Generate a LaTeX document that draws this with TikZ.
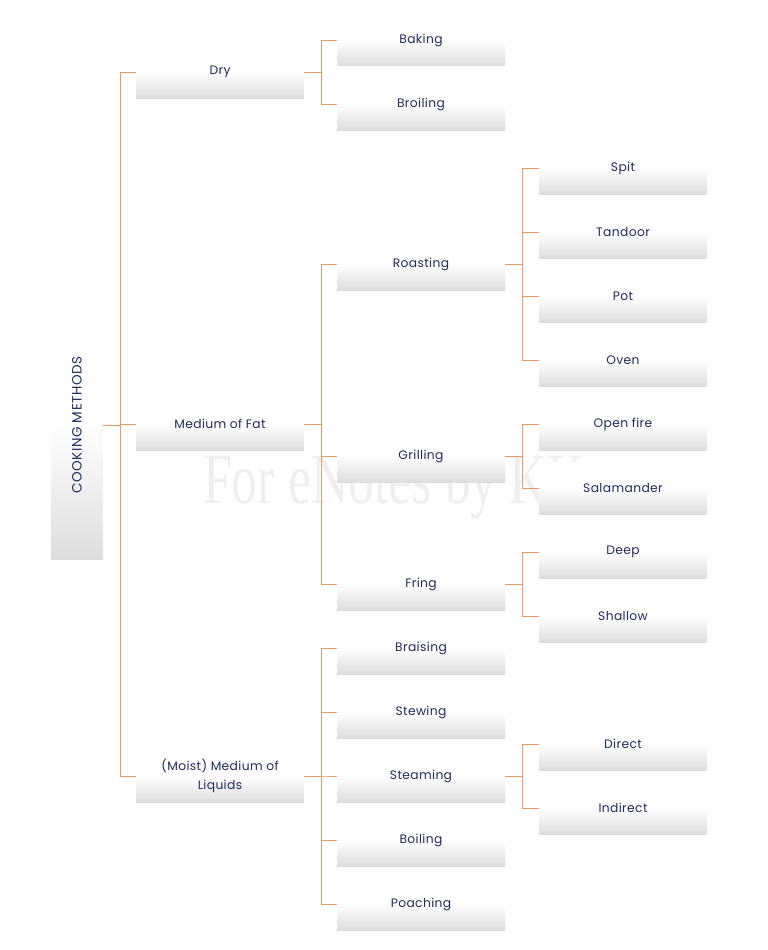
\documentclass[tikz,border=0pt]{standalone}
\usepackage{fontspec}
\setmainfont{Poppins}[LetterSpace=3]
\newfontfamily\rootfont{Poppins}[LetterSpace=4]
\newfontfamily\wmfont{Liberation Serif}
\definecolor{linkc}{HTML}{EB9B61}
\definecolor{txtc}{HTML}{1E2B5E}
\definecolor{boxg}{HTML}{DDDDDD}
\definecolor{wmc}{HTML}{EFEFEF}
\pgfdeclareverticalshading{cboxsh}{100bp}{color(0bp)=(boxg); color(25bp)=(boxg); color(50bp)=(white); color(100bp)=(white)}
\begin{document}
\begin{tikzpicture}[x=1pt,y=-1pt,
  cbox/.style={minimum width=168pt,minimum height=52pt,inner sep=0pt,
    shading=cboxsh,draw=none,
    text=txtc,font=\fontsize{12.3}{19}\selectfont,align=center},
  link/.style={draw=linkc,line width=0.8pt}]
\useasboundingbox (0,0) rectangle (768,950);
\node[text=wmc,font=\wmfont\fontsize{72}{72}\selectfont,anchor=base west,xscale=0.72,inner sep=0pt] (wm) at (203,503) {For eNotes by KK};
% root
\node[minimum width=52pt,minimum height=268pt,inner sep=0pt,shading=cboxsh] (cm) at (77,425) {};
\node[rotate=90,text=txtc,font=\rootfont\fontsize{13.5}{14}\selectfont] (cmt) at (cm.center) {COOKING METHODS};
% level 1
\node[cbox] (dry) at (220,72) {Dry};
\node[cbox] (fat) at (220,424) {Medium of Fat};
\node[cbox] (moist) at (220,776) {(Moist) Medium of\\Liquids};
% level 2
\node[cbox] (baking) at (421,40) {Baking};
\node[cbox] (broiling) at (421,104) {Broiling};
\node[cbox] (roasting) at (421,264) {Roasting};
\node[cbox] (grilling) at (421,456) {Grilling};
\node[cbox] (fring) at (421,584) {Fring};
\node[cbox] (braising) at (421,648) {Braising};
\node[cbox] (stewing) at (421,712) {Stewing};
\node[cbox] (steaming) at (421,776) {Steaming};
\node[cbox] (boiling) at (421,840) {Boiling};
\node[cbox] (poaching) at (421,904) {Poaching};
% level 3
\node[cbox] (spit) at (623,168) {Spit};
\node[cbox] (tandoor) at (623,232) {Tandoor};
\node[cbox] (pot) at (623,296) {Pot};
\node[cbox] (oven) at (623,360) {Oven};
\node[cbox] (openfire) at (623,424) {Open fire};
\node[cbox] (salamander) at (623,488) {Salamander};
\node[cbox] (deep) at (623,552) {Deep};
\node[cbox] (shallow) at (623,616) {Shallow};
\node[cbox] (direct) at (623,744) {Direct};
\node[cbox] (indirect) at (623,808) {Indirect};
% connectors
\foreach \c in {dry,fat,moist} \draw[link] (cm.east) -- ++(17,0) |- (\c.west);
\foreach \c in {baking,broiling} \draw[link] (dry.east) -- ++(17,0) |- (\c.west);
\foreach \c in {roasting,grilling,fring} \draw[link] (fat.east) -- ++(17,0) |- (\c.west);
\foreach \c in {braising,stewing,steaming,boiling,poaching} \draw[link] (moist.east) -- ++(17,0) |- (\c.west);
\foreach \c in {spit,tandoor,pot,oven} \draw[link] (roasting.east) -- ++(17,0) |- (\c.west);
\foreach \c in {openfire,salamander} \draw[link] (grilling.east) -- ++(17,0) |- (\c.west);
\foreach \c in {deep,shallow} \draw[link] (fring.east) -- ++(17,0) |- (\c.west);
\foreach \c in {direct,indirect} \draw[link] (steaming.east) -- ++(17,0) |- (\c.west);
\end{tikzpicture}
\end{document}
